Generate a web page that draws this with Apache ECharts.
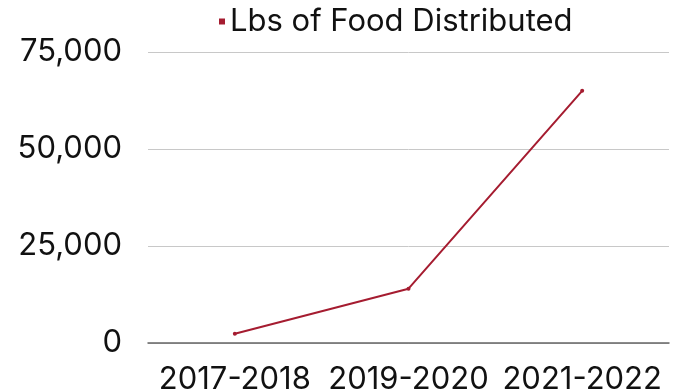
<!DOCTYPE html>
<html>
<head>
<meta charset="utf-8">
<script src="https://cdn.jsdelivr.net/npm/echarts@6/dist/echarts.min.js"></script>
<style>
html,body{margin:0;padding:0;background:#fff;}
#chart{width:673px;height:389px;}
</style>
</head>
<body>
<div id="chart"></div>
<script>
var categories = ["2017-2018", "2019-2020", "2021-2022"];
var seriesName = "Lbs of Food Distributed";
var values = [2400, 14000, 65000];
var yTicks = {min: 0, max: 75000, interval: 25000};

var FONT = "Inter";
var chart = echarts.init(document.getElementById('chart'));
chart.setOption({
  animation: false,
  textStyle: {fontFamily: FONT},
  grid: {left: 148, right: 4, top: 52, bottom: 46, containLabel: false, outerBoundsMode: 'none'},
  legend: {
    data: [{name: seriesName, icon: 'rect'}],
    top: 6,
    left: 219,
    padding: 0,
    itemWidth: 6,
    itemHeight: 6,
    itemGap: 4,
    textStyle: {fontFamily: FONT, fontSize: 31, color: '#111'}
  },
  xAxis: {
    type: 'category',
    data: categories,
    boundaryGap: true,
    axisLine: {lineStyle: {color: '#666', width: 1.5}},
    axisTick: {show: false},
    axisLabel: {fontFamily: FONT, fontSize: 31, color: '#111', margin: 21, interval: 0}
  },
  yAxis: {
    type: 'value',
    min: yTicks.min,
    max: yTicks.max,
    interval: yTicks.interval,
    axisLine: {show: false},
    axisTick: {show: false},
    splitLine: {lineStyle: {color: '#c8c8c8', width: 1}},
    axisLabel: {
      fontFamily: FONT, fontSize: 31, color: '#111', margin: 26,
      formatter: function (v) { return v.toLocaleString('en-US'); }
    }
  },
  series: [{
    name: seriesName,
    type: 'line',
    data: values,
    color: '#A51C30',
    symbol: 'circle',
    symbolSize: 4,
    lineStyle: {width: 2, color: '#A51C30'},
    itemStyle: {color: '#A51C30'}
  }]
});
</script>
</body>
</html>
